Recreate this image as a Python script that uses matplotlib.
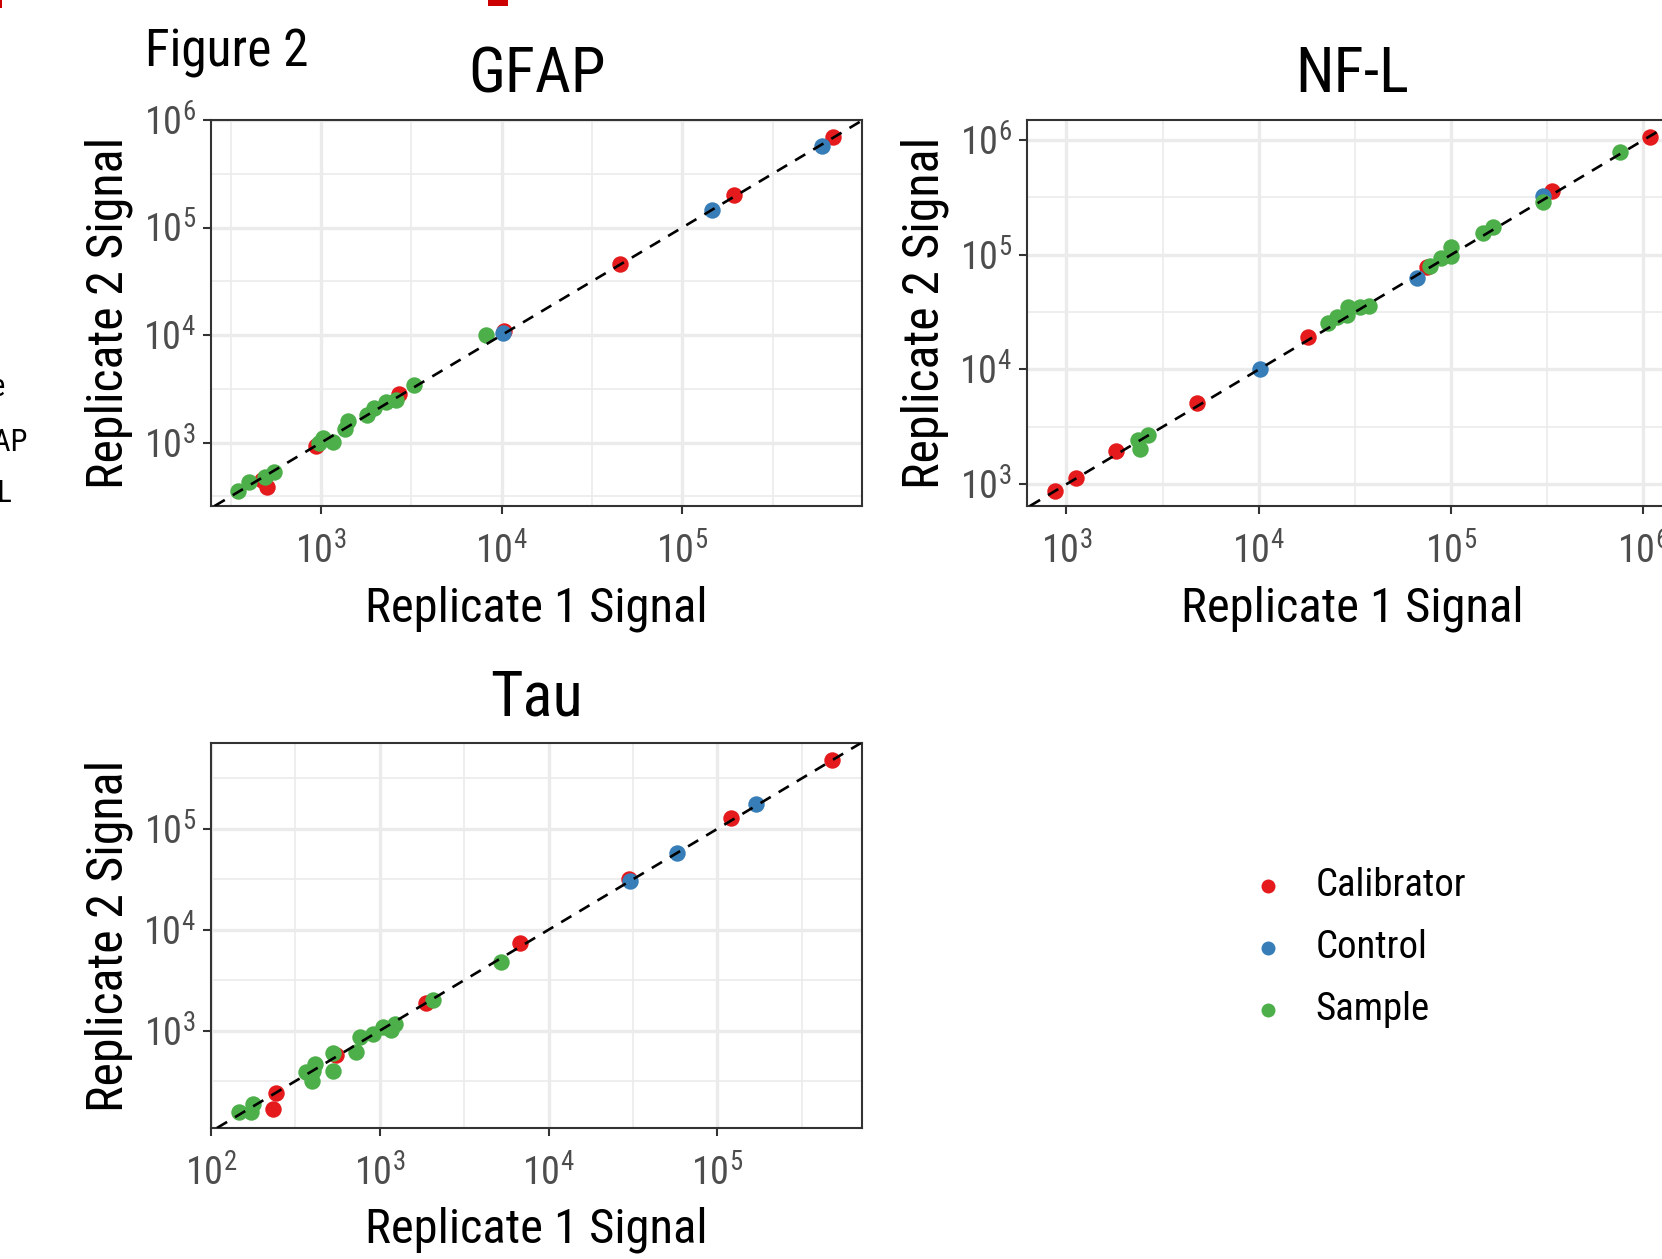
import numpy as np
import matplotlib
matplotlib.use("Agg")
import matplotlib.pyplot as plt
from matplotlib import font_manager
from matplotlib.patches import Rectangle

# Dados (sinal do replicado 1 e replicado 2)
grupos = ["Calibrator", "Control", "Sample"]
cores = ["#E41A1C", "#377EB8", "#4DAF4A"]

# GFAP
gfap_cal_x = [684000, 194000, 45300, 10300, 2700, 938, 473, 500]
gfap_cal_y = [692000, 200000, 46100, 10900, 2820, 931, 449, 388]
gfap_ctl_x = [590000, 146000, 10100]
gfap_ctl_y = [578000, 146000, 10400]
gfap_smp_x = [8180, 3270, 2600, 2280, 1960, 1790, 1400, 1350, 1160, 1020, 973, 551, 486, 399, 348]
gfap_smp_y = [9950, 3450, 2500, 2360, 2090, 1790, 1590, 1340, 1020, 1100, 986, 536, 475, 433, 356]

# NF-L
nfl_cal_x = [1076000, 336000, 75300, 18000, 4790, 1810, 1120, 871]
nfl_cal_y = [1069000, 357000, 77800, 19200, 5120, 1960, 1130, 881]
nfl_ctl_x = [301000, 66400, 10200]
nfl_ctl_y = [323000, 62400, 10000]
nfl_smp_x = [755000, 301000, 166000, 147000, 99800, 99800, 89100, 77300, 37300, 33800,
             29200, 28800, 25500, 23000, 2650, 2370, 2400]
nfl_smp_y = [780000, 288000, 174000, 154000, 116000, 98400, 94000, 80400, 35900, 34800,
             34800, 30000, 28800, 25600, 2700, 2440, 2040]

# Tau
tau_cal_x = [476000, 120000, 29900, 6760, 1870, 552, 244, 232]
tau_cal_y = [483000, 129000, 31500, 7400, 1870, 578, 239, 167]
tau_ctl_x = [170000, 57400, 30300]
tau_ctl_y = [177000, 57400, 30300]
tau_smp_x = [5200, 2070, 1230, 1160, 1050, 906, 760, 718, 527, 527, 412, 401, 367, 394, 177, 172, 146]
tau_smp_y = [4760, 1990, 1150, 1020, 1080, 927, 859, 610, 596, 401, 467, 401, 386, 319, 188, 155, 157]

# Expoentes dos ticks (10^n)
gfap_x_exp = [3, 4, 5]
gfap_y_exp = [3, 4, 5, 6]
nfl_x_exp = [3, 4, 5, 6]
nfl_y_exp = [3, 4, 5, 6]
tau_x_exp = [2, 3, 4, 5]
tau_y_exp = [3, 4, 5]

# Procura uma fonte estreita (tipo Arial Narrow); se não houver, usa Liberation Sans menor
fontes = font_manager.fontManager.ttflist
fonte, estreita, k = "Liberation Sans", "normal", 0.9
for nome in ["Liberation Sans Narrow", "Arial Narrow", "Roboto Condensed",
             "Open Sans Condensed", "DejaVu Sans Condensed"]:
    if any(f.name == nome for f in fontes):
        fonte, k = nome, 1.0
        break
else:
    for f in fontes:
        if str(f.stretch) in ("condensed", "semi-condensed", "600", "700", "500") \
                and f.style == "normal" and f.name in ("DejaVu Sans", "Roboto", "Open Sans",
                                                       "Noto Sans", "Liberation Sans"):
            fonte, estreita, k = f.name, "condensed", 1.0
            break

plt.rcParams["font.family"] = [fonte, "DejaVu Sans"]
plt.rcParams["font.stretch"] = estreita
plt.rcParams["mathtext.fontset"] = "custom"
plt.rcParams["mathtext.rm"] = fonte
plt.rcParams["mathtext.it"] = fonte + ":italic"
plt.rcParams["mathtext.bf"] = fonte + ":bold"

W, H = 1662, 1259
fig = plt.figure(figsize=(W / 100, H / 100), dpi=100)


def caixa(l, t, r, b):
    # posição em pixels -> fração da figura
    return [l / W, 1 - b / H, (r - l) / W, (b - t) / H]


def painel(rect, titulo, series, xlim, ylim, x_exp, y_exp):
    ax = fig.add_axes(rect)
    ax.set_xscale("log")
    ax.set_yscale("log")

    for (x, y), nome, cor in zip(series, grupos, cores):
        ax.scatter(x, y, s=140, color=cor, linewidths=0, zorder=3, label=nome)

    # linha identidade y = x
    ax.axline((1, 1), (10, 10), color="black", lw=1.9, ls=(0, (4.5, 3.5)), zorder=4)

    ax.set_xlim(10 ** xlim[0], 10 ** xlim[1])
    ax.set_ylim(10 ** ylim[0], 10 ** ylim[1])

    ax.set_xticks([10.0 ** e for e in x_exp])
    ax.set_xticklabels([rf"$10^{{{e}}}$" for e in x_exp])
    ax.set_yticks([10.0 ** e for e in y_exp])
    ax.set_yticklabels([rf"$10^{{{e}}}$" for e in y_exp])
    ax.set_xticks([10 ** (n + 0.5) for n in range(1, 7) if xlim[0] < n + 0.5 < xlim[1]], minor=True)
    ax.set_yticks([10 ** (n + 0.5) for n in range(1, 7) if ylim[0] < n + 0.5 < ylim[1]], minor=True)

    ax.grid(which="major", color="#EBEBEB", lw=2.4)
    ax.grid(which="minor", color="#EBEBEB", lw=1.2)
    ax.set_axisbelow(True)

    for s in ax.spines.values():
        s.set_color("#333333")
        s.set_linewidth(1.5)
    ax.tick_params(which="major", length=6, width=1.5, color="#333333",
                   labelcolor="#4D4D4D", labelsize=27.5 * k)
    ax.tick_params(axis="x", pad=13)
    ax.tick_params(axis="y", pad=5)
    ax.tick_params(which="minor", length=0)

    ax.set_title(titulo, fontsize=45 * k, pad=20)
    ax.set_xlabel("Replicate 1 Signal", fontsize=35 * k, va="baseline")
    ax.xaxis.set_label_coords(0.5, -(621 - 506) / 386)
    ax.set_ylabel("Replicate 2 Signal", fontsize=36 * k)
    ax.yaxis.set_label_coords(-(211 - 133) / 651, 0.5)
    return ax


painel(caixa(211, 120, 862, 506), "GFAP",
       [(gfap_cal_x, gfap_cal_y), (gfap_ctl_x, gfap_ctl_y), (gfap_smp_x, gfap_smp_y)],
       (2.39, 5.995), (2.41, 6.0), gfap_x_exp, gfap_y_exp)

painel(caixa(1027, 120, 1678, 506), "NF-L",
       [(nfl_cal_x, nfl_cal_y), (nfl_ctl_x, nfl_ctl_y), (nfl_smp_x, nfl_smp_y)],
       (2.795, 6.18), (2.81, 6.175), nfl_x_exp, nfl_y_exp)

ax_tau = painel(caixa(211, 743, 862, 1128), "Tau",
                [(tau_cal_x, tau_cal_y), (tau_ctl_x, tau_ctl_y), (tau_smp_x, tau_smp_y)],
                (2.0, 5.856), (2.035, 5.85), tau_x_exp, tau_y_exp)

# Legenda
handles, labels = ax_tau.get_legend_handles_labels()
fig.legend(handles, labels, loc="upper left", bbox_to_anchor=(1249 / W, 1 - 867 / H),
           frameon=False, fontsize=28 * k, handlelength=1.0, handletextpad=0.71,
           labelspacing=0.64 / k, borderpad=0, borderaxespad=0, scatterpoints=1,
           markerscale=0.85)

# Rótulo e fragmentos de outros painéis na borda
fig.text(145 / W, 1 - 66 / H, "Figure 2", fontsize=37 * k, va="baseline")
fig.text(5 / W, 1 - 388 / H, "e", fontsize=22, ha="right", va="center")
fig.text(27 / W, 1 - 442 / H, "GFAP", fontsize=22, ha="right", va="center")
fig.text(12 / W, 1 - 493 / H, "NF-L", fontsize=22, ha="right", va="center")
fig.add_artist(Rectangle((488 / W, 1 - 6 / H), 20 / W, 6 / H, transform=fig.transFigure,
                         color="#CC0000", lw=0))
fig.add_artist(Rectangle((0, 1 - 8 / H), 2 / W, 8 / H, transform=fig.transFigure,
                         color="#CC0000", lw=0))

fig.savefig("out.png", dpi=100)
